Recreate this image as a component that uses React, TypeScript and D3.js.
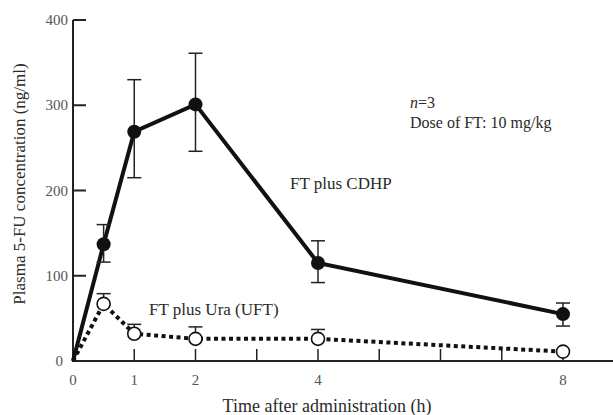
import React from "react";
import * as d3 from "d3";

const times = [0, 0.5, 1, 2, 4, 8];
const cdhpMean = [0, 137, 269, 301, 115, 55];
const cdhpUpper = [null, 160, 330, 361, 141, 68];
const cdhpLower = [null, 116, 215, 246, 92, 41];
const ufTMean = [0, 67, 32, 26, 26, 11];
const uftUpper = [null, 79, 43, 40, 37, null];
const yTicks = [0, 100, 200, 300, 400];
const xTickLabels = [0, 1, 2, 4, 8];
const xTickMarks = [1, 2, 3, 4, 5, 6, 7, 8];

const W = 613;
const H = 415;
const font = "'Liberation Serif', 'DejaVu Serif', serif";

export default function App() {
  const x = d3.scaleLinear().domain([0, 8]).range([73, 563]);
  const y = d3.scaleLinear().domain([0, 400]).range([361, 20]);
  const line = d3
    .line<number>()
    .x((_, i) => x(times[i]))
    .y((d) => y(d));

  const textCol = "#2a2a2a";
  return (
    <svg
      width={W}
      height={H}
      style={{ position: "absolute", left: 0, top: 0, background: "#fff" }}
      fontFamily={font}
    >
      {/* axes */}
      <line x1={73} y1={y(400)} x2={73} y2={y(0)} stroke="#222" strokeWidth={2} />
      <line x1={72} y1={y(0)} x2={613} y2={y(0)} stroke="#222" strokeWidth={2} />
      {yTicks.map((t) => (
        <g key={"y" + t}>
          {t > 0 && (
            <line x1={73} x2={86} y1={y(t)} y2={y(t)} stroke="#222" strokeWidth={2} />
          )}
          <text x={t === 0 ? 63 : 68} y={y(t) + 5} textAnchor="end" fontSize={15} fill="#555">
            {t}
          </text>
        </g>
      ))}
      {xTickMarks.map((t) => (
        <line key={"xt" + t} x1={x(t)} x2={x(t)} y1={y(0)} y2={y(0) - 12} stroke="#222" strokeWidth={1.5} />
      ))}
      {xTickLabels.map((t) => (
        <text key={"xl" + t} x={x(t)} y={385} textAnchor="middle" fontSize={15} fill="#555">
          {t}
        </text>
      ))}
      <text x={327} y={412} textAnchor="middle" fontSize={18} fill={textCol}>
        Time after administration (h)
      </text>
      <text
        transform={`translate(25,184) rotate(-90)`}
        textAnchor="middle"
        fontSize={17}
        fill={textCol}
      >
        Plasma 5-FU concentration (ng/ml)
      </text>

      {/* UFT dotted line */}
      <path d={line(ufTMean) || ""} fill="none" stroke="#111" strokeWidth={4} strokeDasharray="4 3.5" />
      {/* CDHP solid line */}
      <path d={line(cdhpMean) || ""} fill="none" stroke="#111" strokeWidth={4} />

      {/* CDHP error bars */}
      {times.map((t, i) =>
        cdhpUpper[i] == null ? null : (
          <g key={"ce" + i} stroke="#222" strokeWidth={1.5}>
            <line x1={x(t)} x2={x(t)} y1={y(cdhpUpper[i] as number)} y2={y(cdhpLower[i] as number)} />
            <line x1={x(t) - 7} x2={x(t) + 7} y1={y(cdhpUpper[i] as number)} y2={y(cdhpUpper[i] as number)} />
            <line x1={x(t) - 7} x2={x(t) + 7} y1={y(cdhpLower[i] as number)} y2={y(cdhpLower[i] as number)} />
          </g>
        )
      )}
      {/* UFT error bars */}
      {times.map((t, i) =>
        uftUpper[i] == null ? null : (
          <g key={"ue" + i} stroke="#222" strokeWidth={1.5}>
            <line x1={x(t)} x2={x(t)} y1={y(uftUpper[i] as number)} y2={y(ufTMean[i])} />
            <line x1={x(t) - 7} x2={x(t) + 7} y1={y(uftUpper[i] as number)} y2={y(uftUpper[i] as number)} />
          </g>
        )
      )}
      {/* markers */}
      {times.map((t, i) =>
        i === 0 ? null : (
          <circle key={"cm" + i} cx={x(t)} cy={y(cdhpMean[i])} r={7} fill="#111" />
        )
      )}
      {times.map((t, i) =>
        i === 0 ? null : (
          <circle key={"um" + i} cx={x(t)} cy={y(ufTMean[i])} r={6.5} fill="#fff" stroke="#111" strokeWidth={1.6} />
        )
      )}

      {/* annotations */}
      <text x={290} y={189} fontSize={17} fill={textCol}>
        FT plus CDHP
      </text>
      <text x={149} y={315} fontSize={17} fill={textCol}>
        FT plus Ura (UFT)
      </text>
      <text x={410} y={108} fontSize={16} fill={textCol}>
        <tspan fontStyle="italic">n</tspan>=3
      </text>
      <text x={410} y={128} fontSize={16} fill={textCol}>
        Dose of FT: 10 mg/kg
      </text>
    </svg>
  );
}
